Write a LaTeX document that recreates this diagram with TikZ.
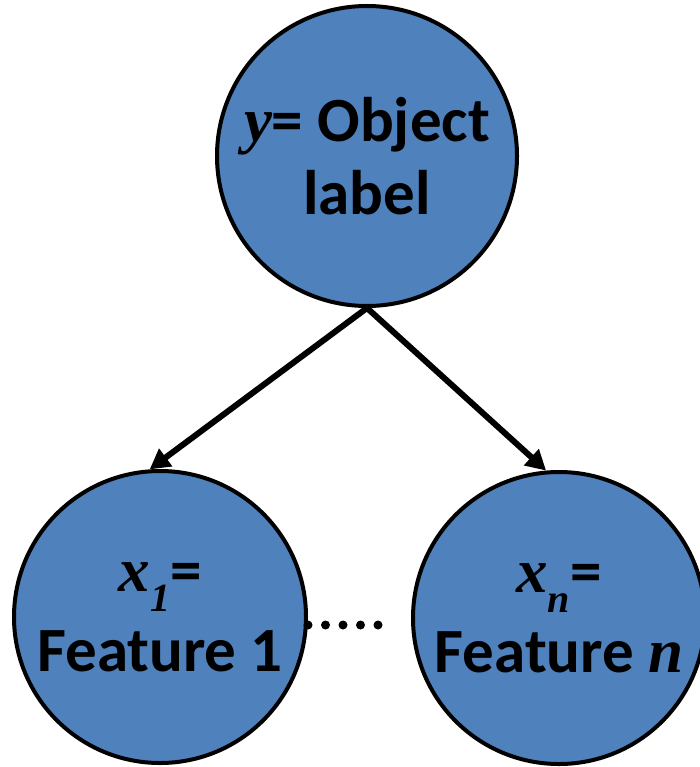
\documentclass[tikz,border=0pt]{standalone}
\usepackage{fontspec}
\setmainfont{Carlito}
\newfontfamily\varfont{Liberation Serif}
\usetikzlibrary{arrows.meta}
\definecolor{nodeblue}{RGB}{79,129,189}
% italic variable names and their subscripts
\newcommand\varsym[1]{{\varfont\bfseries\itshape #1}}
\newcommand\varsub[1]{\raisebox{-0.32em}{\fontsize{40}{42}\selectfont\varsym{#1}}}

\begin{document}
\begin{tikzpicture}[x=1pt,y=-1pt,
  varnode/.style={circle, draw=black, line width=4pt, fill=nodeblue,
    minimum size=#1, inner sep=0pt, align=center,
    font=\fontsize{63}{73}\selectfont\bfseries},
  edge/.style={line width=6pt, -{Triangle[length=20pt,width=21pt]}}]
\useasboundingbox (0,0) rectangle (699,767);

\node[varnode=300pt] (y) at (367,156) {\varsym{y}= Object\\label};
\node[varnode=292pt] (x1) at (160,617) {\varsym{x}\varsub{1}=\\[7pt]Feature 1};
\node[varnode=292pt] (xn) at (559,618) {\varsym{x}\varsub{n}=\\[7pt]Feature \varsym{n}};

\draw[edge] (y.270) -- (x1.94);
\draw[edge] (y.270) -- (xn.95);

% ellipsis between the feature nodes
\foreach \i in {0,...,4}
  \fill (308+17.5*\i, 625) circle (4.5pt);
\end{tikzpicture}
\end{document}
